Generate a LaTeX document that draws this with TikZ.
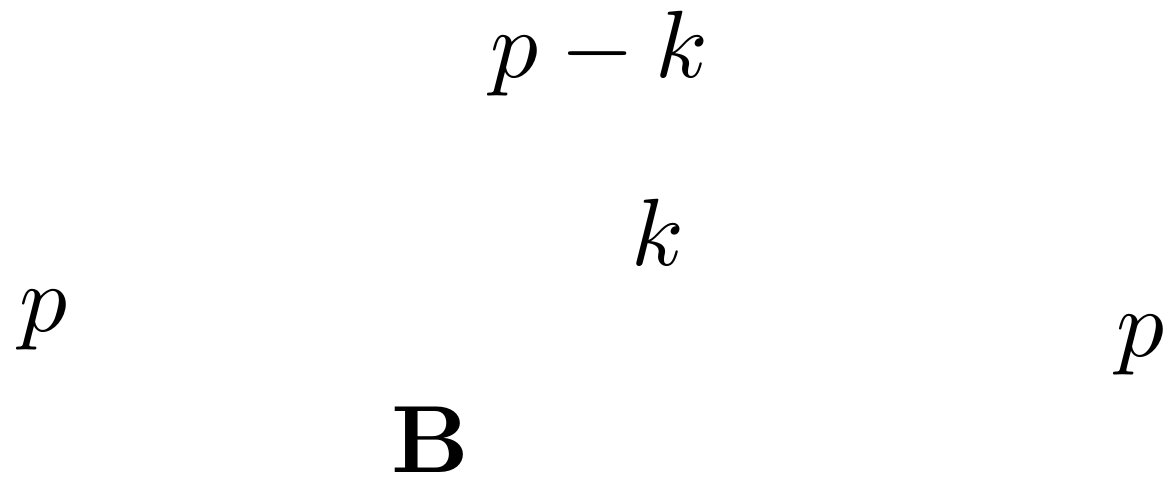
\documentclass[tikz,border=0pt]{standalone}
\usepackage{amsmath,amssymb,amsfonts}
\usepackage{tikz}
\usetikzlibrary{positioning}

\begin{document}
\begin{tikzpicture}[
    x=1pt, y=1pt,
    momentum/.style={inner sep=0pt, anchor=base},
]
    % Frame
    \useasboundingbox (0,0) rectangle (122.1,50.4);

    % Momentum labels
    \node[momentum] (loop) at (62.8, 42.3) {$p-k$};
    \node[momentum] (kin) at (68.9, 22.6) {$k$};
    \node[momentum] (pin) at (4.6, 15.7) {$p$};
    \node[momentum] (pout) at (119.4, 13.1) {$p$};

    % Blob label
    \node[momentum] (blob) at (45.1, 0.9) {$\mathbf{B}$};
\end{tikzpicture}
\end{document}
